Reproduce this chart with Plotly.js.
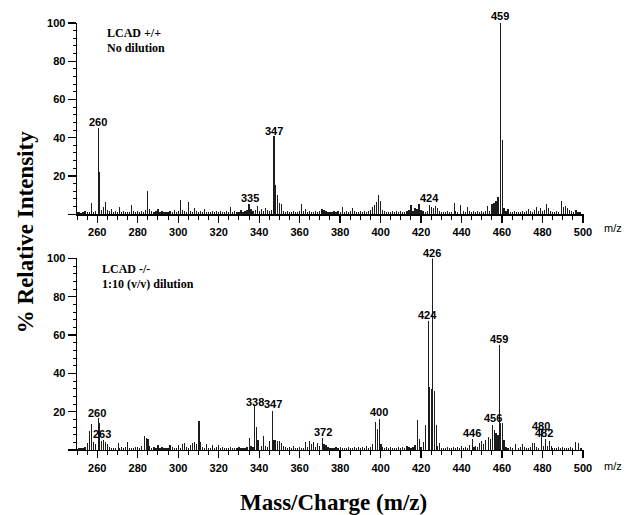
<!DOCTYPE html>
<html>
<head>
<meta charset="utf-8">
<script src="https://cdn.plot.ly/plotly-3.0.1.min.js"></script>
<style>html,body{margin:0;padding:0;background:#fff;}#chart{width:630px;height:515px;}</style>
</head>
<body>
<div id="chart"></div>
<script>
// ---- Top spectrum: LCAD +/+, no dilution ----
const mzTop = [250,251,252,253,254,255,256,257,258,259,
  260.5,261.3,262,263,264,265,266,267,268,269,
  270,271,272,273,274,275,276,277,278,279,
  280,281,282,283,284,285,286,287,288,289,
  290,291,292,293,294,295,296,297,298,299,
  300,301,302,303,304,305,306,307,308,309,
  310,311,312,313,314,315,316,317,318,319,
  320,321,322,323,324,325,326,327,328,329,
  330,331,332,333,334,335,336,337,338,339,
  340,341,342,343,344,345,346,347.3,348.1,349,
  350,351,352,353,354,355,356,357,358,359,
  360,361,362,363,364,365,366,367,368,369,
  370,371,372,373,374,375,376,377,378,379,
  380,381,382,383,384,385,386,387,388,389,
  390,391,392,393,394,395,396,397,398,399,
  400,401,402,403,404,405,406,407,408,409,
  410,411,412,413,414,415,416,417,418,419,
  420,421,422,423,424,425,426,427,428,429,
  430,431,432,433,434,435,436.5,437,438,439.5,
  441,442,443,444,445,446,447,448,449,
  450,451,452,453,454,455,456,457,458,459.4,
  460.2,461,462,463,464,465,466,467,468,469,
  470,471,472,473,474,475,476,477,478,479,
  480,481,482,483,484,485,486,487,488,489.5,
  490.5,491.5,492.5,493.5,494.5,495.5,496.5,497.5,498.5];
const intTop = [1,1.2,0.8,1,1.5,1,1.2,6,1,1.5,
  45,22,2,3.5,6.5,2,1.5,2.5,1,1.5,
  1.2,4,1,1.5,1,1.2,1,5,1.5,1,
  1.5,1,1.5,1.2,2,12,2.5,1.5,1,1.5,
  2.5,1,1.5,1,1.2,1,1.5,1,2,1,
  1.5,7.5,2,1.5,1,6.5,1.5,1,3,1.5,
  1,1.5,1,2.5,1,1.2,1,1.5,1,1.5,
  1,1.5,1,1.2,1.5,1,3.5,1,1.5,1,
  1.2,2,1,1.5,2,5.5,2.5,1.5,2,4.5,
  1.5,2.5,1.5,3,2,1.5,2,41,15.5,10,
  6,5.5,1.5,1,1.5,1.2,1,1.5,1,1.2,
  1.5,5.5,1.5,2.5,1,1.5,1,1.2,1.5,1,
  1.5,2.5,2,1.5,1,1.2,1,1.5,1,1.5,
  1.2,3.5,1,1.5,1,1.5,3,1.5,1,1.2,
  1.5,1,1.5,1,1.5,2,4,5,6.5,10,
  7,2,1.5,1,1.2,1,1.5,1,1.5,1,
  1.5,1,1.2,1.5,2,5,1.5,3,2.5,5.5,
  2,1.5,1.2,1.5,5,3.5,3,4.5,3,1.5,
  1,1.2,1,1.5,1,1.2,6,1.5,1,5,
  1.5,1,3.5,1.5,1.2,1.5,1,1.5,1.2,
  1.5,1,1.5,4.5,1.5,5.5,6,7,9,100,
  39,3,1.5,2.5,1.2,1,1.5,1,1.2,1,
  1.5,1,1.5,2.5,1.5,1,2,3.5,1.5,3,
  1.5,2,5.5,3,1.5,1,1.2,1.5,1,7,
  4,4.5,3,2,1.5,1.2,2,1,1];

// ---- Bottom spectrum: LCAD -/-, 1:10 (v/v) dilution ----
const mzBottom = [250,251,252,253,254,255,256,257,258,259,
  260.5,261.2,262,263,264,265,266,267,268,269,
  270.4,271,272,273,274,275,276,277,278,279,
  280,281,282,283.5,284.3,285.1,286,287,288,289,
  290,291,292,293,294,295,296,297,298,299,
  300,301,302,303,304,305,306,307,308,309,
  310.3,311,312,313,314,315,316,317,318,319,
  320,321,322,323,324,325,326,327,328,329,
  330,331,332,333,334,335.4,336,337,337.8,338.6,
  339.4,341,342,343,344,345,346.5,347.3,348,349,
  350,351,352,353,354,355,356,357,358,359,
  360,361,362,363,364,365,366,367,368,369,
  370,371.4,372,373,374,375,376,377,378,379,
  380,381,382,383,384,385,386,387,388,389,
  390,391,392,393,394,395,396,397.4,398.3,399.4,
  400.2,401,402,403,404,405,406,407,408,409,
  410,411,412,413,414,415,416,417,418.3,419.1,
  420,421.2,422,423.6,424.2,425,425.8,426.6,427.5,428.3,
  429,430,431,432,433,434,435,436,437,438,439,
  440,441,442,443,444,445.4,446.2,447,448,449,
  450,451,452,453.3,454.3,455.3,456.2,457,458,458.6,
  459.4,460.2,461,462,463,464,465,466.8,468,469,
  470,471,472,473,474,475,476,477,478,479.5,
  480.5,481.6,482.5,483.6,484.5,485,486,487,488,489,
  490,491,492,493,494,495,496.4,497.7,499];
const intBottom = [0.5,1,0.8,1,1.5,3.5,10,13.5,4,3,
  16.5,14,4.5,5,4,3,1.5,1,1.2,1,
  3.5,1,1.5,1,1.5,4,1,1.2,1,1.5,
  1.5,1,2,7.5,6.5,5.5,2,1,1.5,1,
  2.5,1,1.5,1,1.2,1,2.5,1.5,1,1.2,
  2.5,1,3,3.5,1.5,1,2.5,3.5,4,3,
  15,4,1.5,1,3,1.2,1,2.5,1,1.5,
  2.5,1,1.5,1,1.2,1,1.5,1,1.2,1,
  1.5,1,1.2,1,1.5,6.5,2,1.5,23,12,
  5,2,7.5,2,1.5,4.5,20.5,5,5,4.5,
  4.5,3.5,2,1.5,1,1.5,1,2,1,1.2,
  1.5,1,1.2,4,1.5,4.5,3,4,1.5,3.5,
  2,6.5,3,2.5,1.5,1,1.2,1,1.5,1,
  1.5,1,1.2,1,1.5,1,1,1.5,1,1.5,
  1,1.5,1.2,2,1,1.5,3,14.5,11,16,
  3,1.5,1,1.5,1,1.5,1,1.2,1,1.5,
  1,1.5,1,2,1.5,1,1.5,2.5,15.5,6,
  1.5,4,13,67.5,33,32,100,31,12.8,2,
  3.5,1,1.2,1,1.5,1,1.2,1.5,1,1.5,1,
  2,1,1.5,1,2.5,5.6,1.5,2,1.5,3.5,
  4.5,3,5,7,6,13,10.5,9,8,55,
  14,14,5,1.5,1,1.5,1,3,1,1.5,
  3,1.5,1.2,1,1.5,3.5,3.5,1.5,1.2,11,
  2,6,2,4.5,2,1,1.2,1,1.5,1,
  1.5,1,1.2,1,1.5,1,4,3.5,1];

// ---- Peak label texts ----
const topPeakLabels = ['260','335','347','424','459'];
const bottomPeakLabels = ['260','263','338','347','372','400','424','426','446','456','459','480','482'];

// label positions (layout only): [x, y, yshift]
const topLabelPos = [[260.5,48.2,0],[335.3,8.7,0],[347.3,43.5,0],[424.1,8.2,0],[458.9,100,7]];
const bottomLabelPos = [[259.7,19.1,0],[262.2,8.2,0],[337.8,25.2,0],[346.8,24.0,0],[371.4,9.5,0],[399.4,19.7,0],
  [423.2,70.4,0],[425.4,100,5.5],[445.4,9.0,0],[455.3,16.5,0],[458.6,57.9,0],[479.4,12.5,0],[480.8,9.0,0]];

const barColor = '#1c1c1c';
const traces = [
  {type:'bar', x: mzTop, y: intTop, xaxis:'x2', yaxis:'y2', width:0.6,
   marker:{color:barColor, line:{width:0}}, hoverinfo:'skip'},
  {type:'bar', x: mzBottom, y: intBottom, xaxis:'x', yaxis:'y', width:0.6,
   marker:{color:barColor, line:{width:0}}, hoverinfo:'skip'}
];

const tickFont = {family:'Liberation Sans, Arial, sans-serif', size:11, color:'#000', weight:'bold'};
function xAxis(anchor){
  return {anchor: anchor, range:[250,500.5], tickmode:'linear', tick0:260, dtick:20,
    ticks:'outside', ticklen:7, tickwidth:1.3, tickcolor:'#000',
    minor:{dtick:5, tick0:250, ticks:'outside', ticklen:4, tickwidth:1, tickcolor:'#000'},
    showline:true, linecolor:'#000', linewidth:1.4, showgrid:false, zeroline:false,
    tickfont: tickFont, fixedrange:true};
}
function yAxis(domain, anchor){
  return {domain: domain, anchor: anchor, range:[0,100], tickmode:'array',
    tickvals:[0,20,40,60,80,100], ticktext:['','20','40','60','80','100'],
    ticks:'outside', ticklen:8, tickwidth:1.3, tickcolor:'#000',
    minor:{tickmode:'array', tickvals:[4,8,12,16,24,28,32,36,44,48,52,56,64,68,72,76,84,88,92,96],
      ticks:'outside', ticklen:3, tickwidth:1, tickcolor:'#000'},
    showline:true, linecolor:'#000', linewidth:1.4, showgrid:false, zeroline:false,
    tickfont: tickFont, fixedrange:true};
}

const peakFont = {family:'Liberation Sans, Arial, sans-serif', size:11, color:'#000', weight:'bold'};
const annFont = {family:'Liberation Serif, Times New Roman, serif', size:12, color:'#000', weight:'bold'};
const titleFont = {family:'Liberation Serif, Times New Roman, serif', size:23, color:'#000', weight:'bold'};

const annotations = [];
topPeakLabels.forEach((t,i)=>annotations.push({text:t, x:topLabelPos[i][0], y:topLabelPos[i][1], yshift:topLabelPos[i][2],
  xref:'x2', yref:'y2', showarrow:false, font:peakFont, xanchor:'center', yanchor:'middle'}));
bottomPeakLabels.forEach((t,i)=>annotations.push({text:t, x:bottomLabelPos[i][0], y:bottomLabelPos[i][1], yshift:bottomLabelPos[i][2],
  xref:'x', yref:'y', showarrow:false, font:peakFont, xanchor:'center', yanchor:'middle'}));

annotations.push(
  {text:'LCAD +/+', xref:'paper', yref:'paper', x:0.0552, y:0.976, xanchor:'left', yanchor:'middle', showarrow:false, font:annFont},
  {text:'No dilution', xref:'paper', yref:'paper', x:0.0552, y:0.9408, xanchor:'left', yanchor:'middle', showarrow:false, font:annFont},
  {text:'LCAD -/-', xref:'paper', yref:'paper', x:0.0454, y:0.4236, xanchor:'left', yanchor:'middle', showarrow:false, font:annFont},
  {text:'1:10 (v/v) dilution', xref:'paper', yref:'paper', x:0.0454, y:0.3885, xanchor:'left', yanchor:'middle', showarrow:false, font:annFont},
  {text:'m/z', xref:'paper', yref:'paper', x:1.057, y:0.5195, xanchor:'center', yanchor:'middle', showarrow:false,
   font:{family:'Liberation Sans, Arial, sans-serif', size:11, color:'#000'}},
  {text:'m/z', xref:'paper', yref:'paper', x:1.057, y:-0.0374, xanchor:'center', yanchor:'middle', showarrow:false,
   font:{family:'Liberation Sans, Arial, sans-serif', size:11, color:'#000'}},
  {text:'% Relative Intensity', xref:'paper', yref:'paper', x:-0.1026, y:0.51, textangle:-90,
   xanchor:'center', yanchor:'middle', showarrow:false, font:titleFont},
  {text:'Mass/Charge (m/z)', xref:'paper', yref:'paper', x:0.505, y:-0.124,
   xanchor:'center', yanchor:'middle', showarrow:false, font:titleFont}
);

const layout = {
  width:630, height:515,
  margin:{l:77, r:46, t:23, b:65},
  paper_bgcolor:'#fff', plot_bgcolor:'#fff',
  showlegend:false, bargap:0,
  xaxis: xAxis('y'),
  yaxis: yAxis([0,0.4486],'x'),
  xaxis2: xAxis('y2'),
  yaxis2: yAxis([0.5523,1],'x2'),
  annotations: annotations
};

Plotly.newPlot('chart', traces, layout, {displayModeBar:false, staticPlot:true});
</script>
</body>
</html>
